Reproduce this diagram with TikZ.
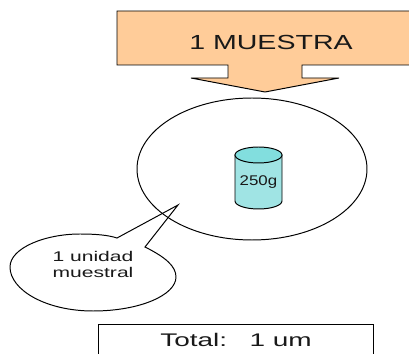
\documentclass[tikz,border=0pt]{standalone}
\usepackage{fontspec}
\setmainfont{Liberation Sans}
\usepackage{tikz}

\definecolor{orangefill}{RGB}{255,204,153}
\definecolor{canfill}{RGB}{160,228,228}
\definecolor{cantop}{RGB}{130,222,222}

\begin{document}
\begin{tikzpicture}[x=.025cm, y=-.025cm]

\tikzstyle{every node} = [inner sep=0pt, text=black!90]
\tikzstyle{outline} = [draw=black, line width=.7pt]

\useasboundingbox (0,0) rectangle (409,354);

% block arrow
\coordinate (ctl) at (117,11);
\coordinate (ctr) at (411,11);
\coordinate (cbr) at (411,65);
\coordinate (cbl) at (117,65);
\coordinate (tip) at (265,92);
\filldraw[outline, fill=orangefill] (ctl) -- (ctr) -- (cbr) -- (302,65) -- (302,78) -- (339,78)
  -- (tip) -- (191,78) -- (228,78) -- (228,65) -- (cbl) -- cycle;
\node[xscale=1.4] (muestra) at (271,42) {\fontsize{14.5}{18}\selectfont 1 MUESTRA};

% big circle
\draw[outline] (252,169) ellipse (115 and 71);

% callout
\coordinate (calltip) at (178,205);
\draw[outline] (117,238) -- (calltip) -- (145,247)
  .. controls (165,257) and (176,266) .. (176,277)
  .. controls (176,295) and (140,311) .. (93,311)
  .. controls (46,311) and (10,290) .. (10,267)
  .. controls (10,248) and (45,234) .. (80,234)
  .. controls (95,234) and (108,235) .. (117,238) -- cycle;
\node[xscale=1.5, align=center] (unidad) at (93,264.5) {\fontsize{10}{11}\selectfont 1 unidad\\muestral};

% sample can
\filldraw[outline, fill=canfill] (235,155) -- (235,201) arc[start angle=180, end angle=0, x radius=23.5, y radius=8]
  -- (282,155) -- cycle;
\filldraw[outline, fill=cantop] (258.5,155) ellipse (23.5 and 8);
\node[xscale=1.2] (can) at (258.5,182) {\fontsize{10}{12}\selectfont 250g};

% total box
\draw[outline] (98,356) -- (98,324) -- (373,324) -- (373,356);
\node[xscale=1.53] (total) at (236,340) {\fontsize{13}{15}\selectfont Total:\hspace{.8em}1 um};

\end{tikzpicture}
\end{document}
